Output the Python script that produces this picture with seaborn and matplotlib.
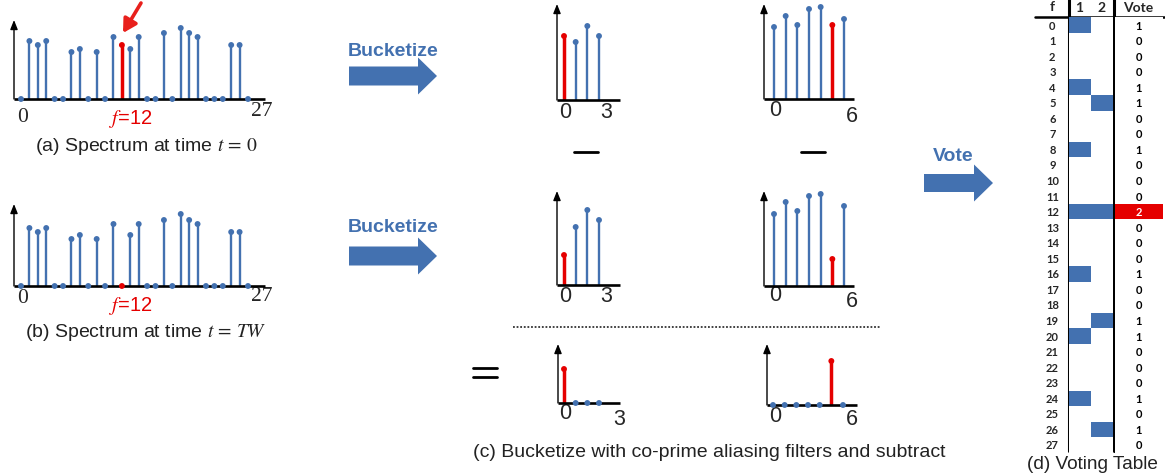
import numpy as np
import pandas as pd
import seaborn as sns
import matplotlib.pyplot as plt
from matplotlib.colors import ListedColormap
from matplotlib.patches import FancyArrow

# ---- data ----
freqs = list(range(28))
spec_t0 = [0, 5.8, 5.4, 5.8, 0, 0, 4.7, 5.0, 0, 4.7, 0, 6.2, 5.4, 5.0,
           6.2, 0, 0, 6.6, 0, 7.1, 6.6, 6.2, 0, 0, 0, 5.4, 5.4, 0]
spec_tw = [0, 5.8, 5.4, 5.8, 0, 0, 4.7, 5.1, 0, 4.7, 0, 6.2, 0, 5.1,
           6.2, 0, 0, 6.6, 0, 7.2, 6.6, 6.2, 0, 0, 0, 5.4, 5.4, 0]
bucket4_t0 = [6.4, 5.8, 7.4, 6.4]
bucket7_t0 = [7.2, 8.3, 7.4, 9.0, 9.2, 7.4, 8.0]
bucket4_tw = [3.0, 5.8, 7.5, 6.5]
bucket7_tw = [7.2, 8.4, 7.5, 9.0, 9.2, 2.7, 8.0]
diff4 = [3.4, 0, 0, 0]
diff7 = [0, 0, 0, 0, 0, 4.4, 0]
filter1_hits = [1, 0, 0, 0, 1, 0, 0, 0, 1, 0, 0, 0, 1, 0,
                0, 0, 1, 0, 0, 0, 1, 0, 0, 0, 1, 0, 0, 0]
filter2_hits = [0, 0, 0, 0, 0, 1, 0, 0, 0, 0, 0, 0, 1, 0,
                0, 0, 0, 0, 0, 1, 0, 0, 0, 0, 0, 0, 1, 0]
votes = [1, 0, 0, 0, 1, 1, 0, 0, 1, 0, 0, 0, 2, 0,
         0, 0, 1, 0, 0, 1, 1, 0, 0, 0, 1, 0, 1, 0]
spec_ends = ["0", "27"]
b4_ends = ["0", "3"]
b7_ends = ["0", "6"]

BLUE = "#4371B0"
RED = "#E50000"
W, H = 1165, 477

sns.set_style("white")
plt.rcParams["font.family"] = ["Liberation Sans", "DejaVu Sans"]
plt.rcParams["mathtext.fontset"] = "stix"

fig = plt.figure(figsize=(W / 100, H / 100), dpi=100)
ov = fig.add_axes([0, 0, 1, 1])
ov.set_xlim(0, W)
ov.set_ylim(H, 0)
ov.axis("off")


def stem_panel(vals, red, ax_x, end_x, first_x, step, base_y, top_y, scale=10.0):
    """small stem plot placed by pixel coordinates of its axes"""
    x0, x1, y0, y1 = ax_x - 6, end_x + 4, top_y - 4, base_y + 6
    ax = fig.add_axes([x0 / W, 1 - y1 / H, (x1 - x0) / W, (y1 - y0) / H])
    ax.patch.set_alpha(0)
    ax.set_xlim((x0 - first_x) / step, (x1 - first_x) / step)
    ax.set_ylim((base_y - y1) / scale, (base_y - y0) / scale)
    ax.axis("off")
    df = pd.DataFrame({"k": np.arange(len(vals)), "v": vals})
    df["c"] = np.where(df["k"] == red, "r", "b")
    blue = df[df["c"] == "b"]
    redp = df[df["c"] == "r"]
    ax.vlines(blue["k"], 0, blue["v"], color=BLUE, lw=1.7, zorder=2)
    ax.vlines(redp["k"], 0, redp["v"], color=RED, lw=2.5, zorder=2)
    sns.scatterplot(data=df, x="k", y="v", hue="c", palette={"b": BLUE, "r": RED},
                    s=18, edgecolor="none", legend=False, ax=ax, zorder=4)
    xa = (ax_x - first_x) / step
    xe = (end_x - first_x) / step
    ax.plot([xa, xe], [0, 0], color="black", lw=1.9, zorder=3, solid_capstyle="butt")
    ax.annotate("", xy=(xa, (base_y - top_y) / scale), xytext=(xa, 0),
                arrowprops=dict(arrowstyle="-|>,head_width=0.22,head_length=0.55",
                                color="black", lw=1.0, shrinkA=0, shrinkB=0))
    ax.set_xlabel("")
    ax.set_ylabel("")
    return ax


# spectra
stem_panel(spec_t0, 12, 14, 265, 21, 227 / 27, 100, 21)
stem_panel(spec_tw, 12, 14, 265, 21, 227 / 27, 287, 205)
# bucketized
stem_panel(bucket4_t0, 0, 557, 620, 564, 35 / 3, 101, 5)
stem_panel(bucket7_t0, 5, 764, 854, 774, 70 / 6, 100, 5)
stem_panel(bucket4_tw, 0, 557, 620, 564, 35 / 3, 286, 192)
stem_panel(bucket7_tw, 5, 764, 854, 774, 70 / 6, 287, 192)
stem_panel(diff4, 0, 558, 620, 564, 35 / 3, 404, 345)
stem_panel(diff7, 5, 767, 857, 773, 70 / 6, 406, 345)

# axis end labels
serif = dict(family="Liberation Serif", fontsize=15.5, ha="center", va="center")
for y0, y1 in [(118, 111), (299, 297)]:
    ov.text(23, y0, spec_ends[0], **serif)
    ov.text(262, y1, spec_ends[1], **serif)
lab = dict(fontsize=15.5, ha="center", va="center")
for (ya, yb, yc, yd) in [(113, 113, 111, 116), (297, 297, 296, 302), (414, 420, 417, 420)]:
    ov.text(565, ya, b4_ends[0], **lab)
    ov.text(606 if ya < 400 else 619, yb, b4_ends[1], **lab)
    ov.text(775, yc, b7_ends[0], **lab)
    ov.text(852, yd, b7_ends[1], **lab)

# f = 12 markers
for yy in [119, 306]:
    ov.text(131, yy, r"$f$=12", color=RED, fontsize=14.5, ha="center", va="center")

# captions
ov.text(146, 147, r"(a) Spectrum at time $t\,=\,0$", fontsize=14, ha="center", va="center",
        color="#222222")
ov.text(146, 333, r"(b) Spectrum at time $t\,=\,TW$", fontsize=14, ha="center", va="center",
        color="#222222")
ov.text(473, 453, "(c) Bucketize with co-prime aliasing filters and subtract", fontsize=14,
        ha="left", va="center", color="#222222")
ov.text(1092, 465, "(d) Voting Table", fontsize=13.7, ha="center", va="center", color="#222222")

# red arrow pointing at f=12
ov.annotate("", xy=(123, 34), xytext=(141, 4),
            arrowprops=dict(arrowstyle="-|>,head_width=0.45,head_length=0.8",
                            color="#E8201C", lw=2.6, shrinkA=0, shrinkB=0))

# block arrows
for ty, ay in [(51, 77), (228, 257)]:
    ov.text(393, ty, "Bucketize", color=BLUE, fontsize=14, weight="bold", ha="center", va="center")
    ov.add_patch(FancyArrow(349, ay, 88, 0, width=19, head_width=37, head_length=19,
                            length_includes_head=True, color=BLUE, lw=0))
ov.text(953, 157, "Vote", color=BLUE, fontsize=14, weight="bold", ha="center", va="center")
ov.add_patch(FancyArrow(924, 184, 69, 0, width=18, head_width=37, head_length=19,
                        length_includes_head=True, color=BLUE, lw=0))

# minus signs, equals sign, dotted separator
for xc in [586, 813]:
    ov.plot([xc - 12, xc + 12], [153, 153], color="black", lw=2)
for yy in [369, 378]:
    ov.plot([473, 497], [yy, yy], color="black", lw=2)
ov.plot([513, 880], [328, 328], color="#333333", lw=1.3, ls=(0, (1, 1)))

# voting table
row_h = 420 / 27
top = 26 - row_h / 2
bot = 446 + row_h / 2
hits = pd.DataFrame({"1": filter1_hits, "2": filter2_hits}, index=freqs)
axh = fig.add_axes([1069 / W, 1 - bot / H, (1113 - 1069) / W, (bot - top) / H])
sns.heatmap(hits, cmap=ListedColormap(["white", BLUE]), cbar=False, ax=axh,
            xticklabels=False, yticklabels=freqs, linewidths=0)
axh.tick_params(axis="y", length=0, pad=12)
for t in axh.get_yticklabels():
    t.set_rotation(0)
    t.set_ha("center")
    t.set_family("Lato")
    t.set_weight("bold")
    t.set_fontsize(8)
axh.set_xlabel("")
axh.set_ylabel("")

vote_df = pd.DataFrame({"Vote": votes}, index=freqs)
axv = fig.add_axes([1115 / W, 1 - bot / H, (1163 - 1115) / W, (bot - top) / H])
sns.heatmap(vote_df, cmap=ListedColormap(["white", "white", RED]), vmin=0, vmax=2,
            cbar=False, ax=axv, annot=True, fmt="d", xticklabels=False, yticklabels=False,
            annot_kws={"family": "Lato", "weight": "bold", "fontsize": 8})
for t in axv.texts:
    if t.get_text() != "2":
        t.set_color("black")
axv.set_xlabel("")
axv.set_ylabel("")

for xx in [1069, 1114]:
    ov.plot([xx, xx], [0, 452], color="black", lw=2.2)
ov.plot([1035, 1165], [18, 18], color="black", lw=1.8)
hdr = dict(family="Lato", weight="bold", fontsize=10, ha="center", va="center")
ov.text(1052, 7, "f", **hdr)
ov.text(1079, 8, "1", **hdr)
ov.text(1102, 8, "2", **hdr)
ov.text(1138, 8, "Vote", **hdr)

fig.savefig("out.png", dpi=100)
